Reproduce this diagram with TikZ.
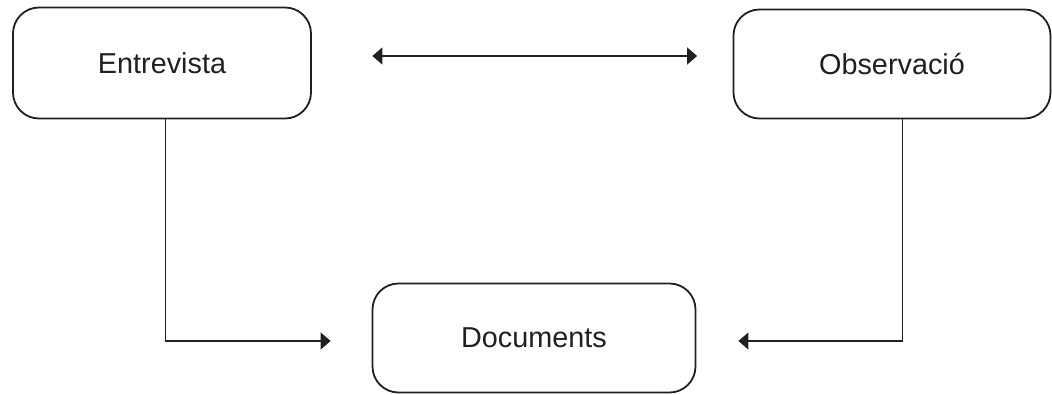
\documentclass[tikz,border=0pt]{standalone}
\usepackage{fontspec}
\setmainfont{Liberation Sans}
\usetikzlibrary{arrows.meta}
\definecolor{ink}{HTML}{231F20}
\begin{document}
\begin{tikzpicture}[x=1pt,y=-1pt,
  box/.style={draw=ink, line width=1.8pt, rounded corners=26pt, rectangle,
    text=ink, font=\fontsize{28.8}{34}\selectfont, inner sep=0pt},
  conn/.style={draw=ink, line width=1.1pt, -{Triangle[length=10pt,width=17pt]}},
  dbl/.style={draw=ink, line width=1.4pt, {Triangle[length=10pt,width=17pt]}-{Triangle[length=10pt,width=17pt]}}]
\useasboundingbox (0,0) rectangle (1052,394);
\node[box, minimum width=298pt, minimum height=111pt] (ent) at (162,63) {Entrevista};
\node[box, minimum width=317pt, minimum height=109pt] (obs) at (892,64) {Observació};
\node[box, minimum width=323pt, minimum height=109pt] (doc) at (534,338) {Documents};
\coordinate (al) at ([xshift=60.5pt,yshift=7pt]ent.east);
\coordinate (ar) at ([xshift=-35.5pt,yshift=8pt]obs.west);
\draw[dbl] (al) -- (ar);
\coordinate (el) at ([xshift=-41pt,yshift=-3pt]doc.west);
\coordinate (er) at ([xshift=42pt,yshift=-3pt]doc.east);
\draw[conn] ([xshift=3.7pt]ent.south) |- (el);
\draw[conn] ([xshift=10.7pt]obs.south) |- (er);
\end{tikzpicture}
\end{document}
